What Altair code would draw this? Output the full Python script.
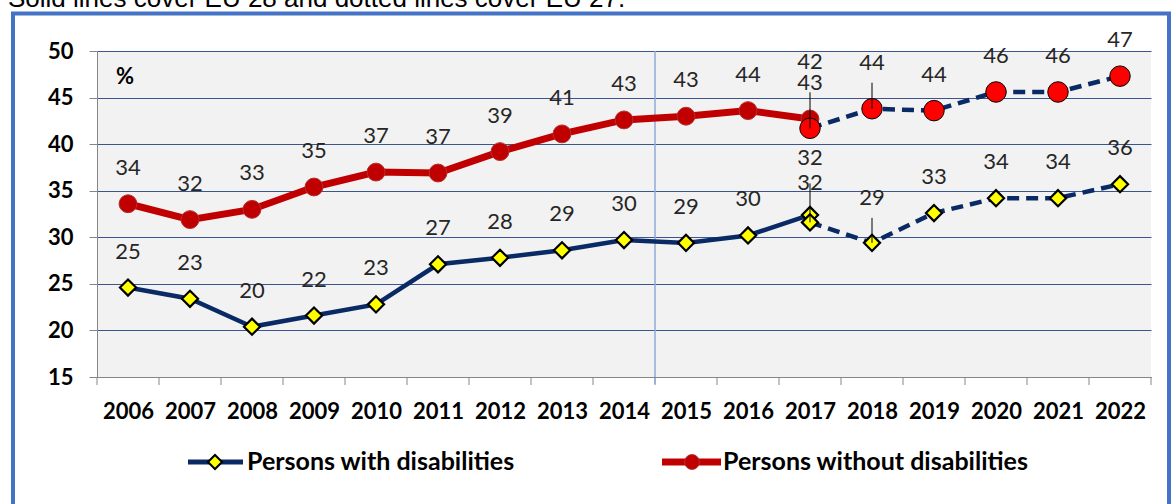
import altair as alt
import pandas as pd

# ---------------- data ----------------
years_eu28 = [2006, 2007, 2008, 2009, 2010, 2011, 2012, 2013, 2014, 2015, 2016, 2017]
with_dis_eu28 = [24.6, 23.4, 20.4, 21.6, 22.8, 27.1, 27.8, 28.6, 29.7, 29.4, 30.2, 32.4]
without_dis_eu28 = [33.6, 31.9, 33.0, 35.4, 37.0, 36.9, 39.2, 41.1, 42.6, 43.0, 43.6, 42.7]

years_eu27 = [2017, 2018, 2019, 2020, 2021, 2022]
with_dis_eu27 = [31.6, 29.4, 32.6, 34.2, 34.2, 35.7]
without_dis_eu27 = [41.7, 43.8, 43.6, 45.6, 45.6, 47.3]

y_ticks = [15, 20, 25, 30, 35, 40, 45, 50]
series_names = ["Persons with disabilities", "Persons without disabilities"]
note_text = "Solid lines cover EU 28 and dotted lines cover EU 27."
unit_text = "%"
break_year = 2014.5

# ---------------- table ----------------
rows = []
for grp, period, yrs, vals in [
    ("with", "EU28", years_eu28, with_dis_eu28),
    ("without", "EU28", years_eu28, without_dis_eu28),
    ("with", "EU27", years_eu27, with_dis_eu27),
    ("without", "EU27", years_eu27, without_dis_eu27),
]:
    for yr, v in zip(yrs, vals):
        rows.append({"year": yr, "value": v, "group": grp, "period": period,
                     "key": f"{grp}|{period}|{yr}"})
df = pd.DataFrame(rows)

all_years = sorted(set(years_eu28) | set(years_eu27))
bounds = pd.DataFrame({"year": [y - 0.5 for y in all_years] + [all_years[-1] + 0.5]})
break_df = pd.DataFrame({"year": [break_year]})
one = pd.DataFrame({"k": [0]})

# ---------------- styles ----------------
NAVY = "#0A2A66"
DARKRED = "#C00000"
RED = "#FF0000"
YELLOW = "#FFFF00"
AXISGRAY = "#868686"
GRID = "#3A5590"
FONT = "Lato"
H = 326

x_enc = alt.X(
    "year:Q",
    scale=alt.Scale(domain=[all_years[0] - 0.5, all_years[-1] + 0.5], nice=False, zero=False),
    axis=alt.Axis(values=all_years, format="d", labelFont=FONT, labelFontSize=22,
                  labelFontWeight="bold", labelColor="black", ticks=False, grid=False,
                  domainColor=AXISGRAY, labelPadding=24, title=None, zindex=1,
                  labelFlush=False, labelOverlap=False),
)
y_enc = alt.Y(
    "value:Q",
    scale=alt.Scale(domain=[15, 50], nice=False, zero=False),
    axis=alt.Axis(values=y_ticks, labelFont=FONT, labelFontSize=22, labelFontWeight="bold",
                  labelColor="black", tickColor=AXISGRAY, tickSize=8, domainColor=AXISGRAY,
                  gridColor=GRID, gridWidth=1.2, labelPadding=16, title=None),
)

base = alt.Chart(df)

def sel(grp, period):
    return base.transform_filter(
        (alt.datum.group == grp) & (alt.datum.period == period))

layers = []

# boundary ticks under the x axis
layers.append(alt.Chart(bounds).mark_rule(color=AXISGRAY, strokeWidth=1).encode(
    x=x_enc, y=alt.value(H), y2=alt.value(H + 8)))
# break line
layers.append(alt.Chart(break_df).mark_rule(color="#8FAADC", strokeWidth=1.5).encode(
    x=x_enc, y=alt.value(0), y2=alt.value(H + 7)))

# lines
layers.append(sel("without", "EU28").mark_line(color=DARKRED, strokeWidth=7).encode(x=x_enc, y=y_enc))
layers.append(sel("with", "EU28").mark_line(color=NAVY, strokeWidth=4.5).encode(x=x_enc, y=y_enc))
layers.append(sel("without", "EU27").mark_line(color=NAVY, strokeWidth=4.5, strokeDash=[12, 7]).encode(x=x_enc, y=y_enc))
layers.append(sel("with", "EU27").mark_line(color=NAVY, strokeWidth=4.5, strokeDash=[12, 7]).encode(x=x_enc, y=y_enc))

# points
layers.append(sel("without", "EU28").mark_point(shape="circle", filled=True, fill=DARKRED,
              stroke="#B03030", strokeWidth=1, size=320, opacity=1).encode(x=x_enc, y=y_enc))
layers.append(sel("with", "EU28").mark_point(shape="diamond", filled=True, fill=YELLOW,
              stroke="black", strokeWidth=2.2, size=260, opacity=1).encode(x=x_enc, y=y_enc))
layers.append(sel("without", "EU27").mark_point(shape="circle", filled=True, fill=RED,
              stroke="black", strokeWidth=1, size=420, opacity=1).encode(x=x_enc, y=y_enc))
layers.append(sel("with", "EU27").mark_point(shape="diamond", filled=True, fill=YELLOW,
              stroke="black", strokeWidth=2.2, size=260, opacity=1).encode(x=x_enc, y=y_enc))

# leader lines (pixel length upward from the point)
leaders = {"without|EU27|2017": 36, "without|EU27|2018": 26,
           "with|EU27|2017": 39, "with|EU27|2018": 25}
for k, ln in leaders.items():
    layers.append(base.transform_filter(alt.datum.key == k).mark_rule(
        color="black", strokeWidth=1, y2Offset=-ln).encode(
        x=x_enc, y=y_enc, y2="value:Q"))

# labels
label_dy = {"without|EU27|2017": -66, "without|EU27|2018": -46,
            "with|EU27|2017": -64, "with|EU27|2018": -45, "with|EU28|2017": -32}
text_style = dict(font=FONT, fontSize=22, color="#262626", baseline="middle", align="center")
layers.append(base.transform_filter(
    "indexof(['" + "','".join(label_dy.keys()) + "'], datum.key) < 0"
).mark_text(dy=-36, **text_style).encode(
    x=x_enc, y=y_enc, text=alt.Text("value:Q", format=".0f")))
for k, d in label_dy.items():
    layers.append(base.transform_filter(alt.datum.key == k).mark_text(dy=d, **text_style).encode(
        x=x_enc, y=y_enc, text=alt.Text("value:Q", format=".0f")))

# annotations
ann = alt.Chart(one)
layers.append(ann.mark_text(text=unit_text, font=FONT, fontSize=22, fontWeight="bold",
                            color="black", align="center", baseline="middle").encode(
    x=alt.value(28), y=alt.value(26)))
layers.append(ann.mark_text(text=note_text, font="Liberation Sans", fontSize=26,
                            color="black", align="left", baseline="alphabetic").encode(
    x=alt.value(-89), y=alt.value(-44.5)))
layers.append(ann.mark_rect(filled=False, stroke="#4472C4", strokeWidth=4).encode(
    x=alt.value(-84), x2=alt.value(1072), y=alt.value(-37.5), y2=alt.value(480)))

# legend
LY = 411
layers.append(ann.mark_rule(color=NAVY, strokeWidth=5).encode(
    x=alt.value(91), x2=alt.value(146), y=alt.value(LY)))
layers.append(ann.mark_point(shape="diamond", filled=True, fill=YELLOW, stroke="black",
                             strokeWidth=2, size=200, opacity=1).encode(
    x=alt.value(118), y=alt.value(LY)))
layers.append(ann.mark_text(text=series_names[0], font=FONT, fontSize=25, fontWeight="bold",
                            color="black", align="left", baseline="middle").encode(
    x=alt.value(150), y=alt.value(LY)))
layers.append(ann.mark_rule(color=DARKRED, strokeWidth=7).encode(
    x=alt.value(565), x2=alt.value(624), y=alt.value(LY)))
layers.append(ann.mark_point(shape="circle", filled=True, fill=DARKRED, stroke="#B03030",
                             strokeWidth=1, size=220, opacity=1).encode(
    x=alt.value(595), y=alt.value(LY)))
layers.append(ann.mark_text(text=series_names[1], font=FONT, fontSize=25, fontWeight="bold",
                            color="black", align="left", baseline="middle").encode(
    x=alt.value(626), y=alt.value(LY)))

chart = alt.layer(*layers).properties(
    width=1054, height=H,
    padding={"left": 97, "top": 51, "right": 20, "bottom": 127},
    autosize=alt.AutoSizeParams(type="none"),
    background="white",
).configure_view(fill="#F2F2F2", stroke=None)

chart.save("out.html", embed_options={"renderer": "svg", "actions": False})
